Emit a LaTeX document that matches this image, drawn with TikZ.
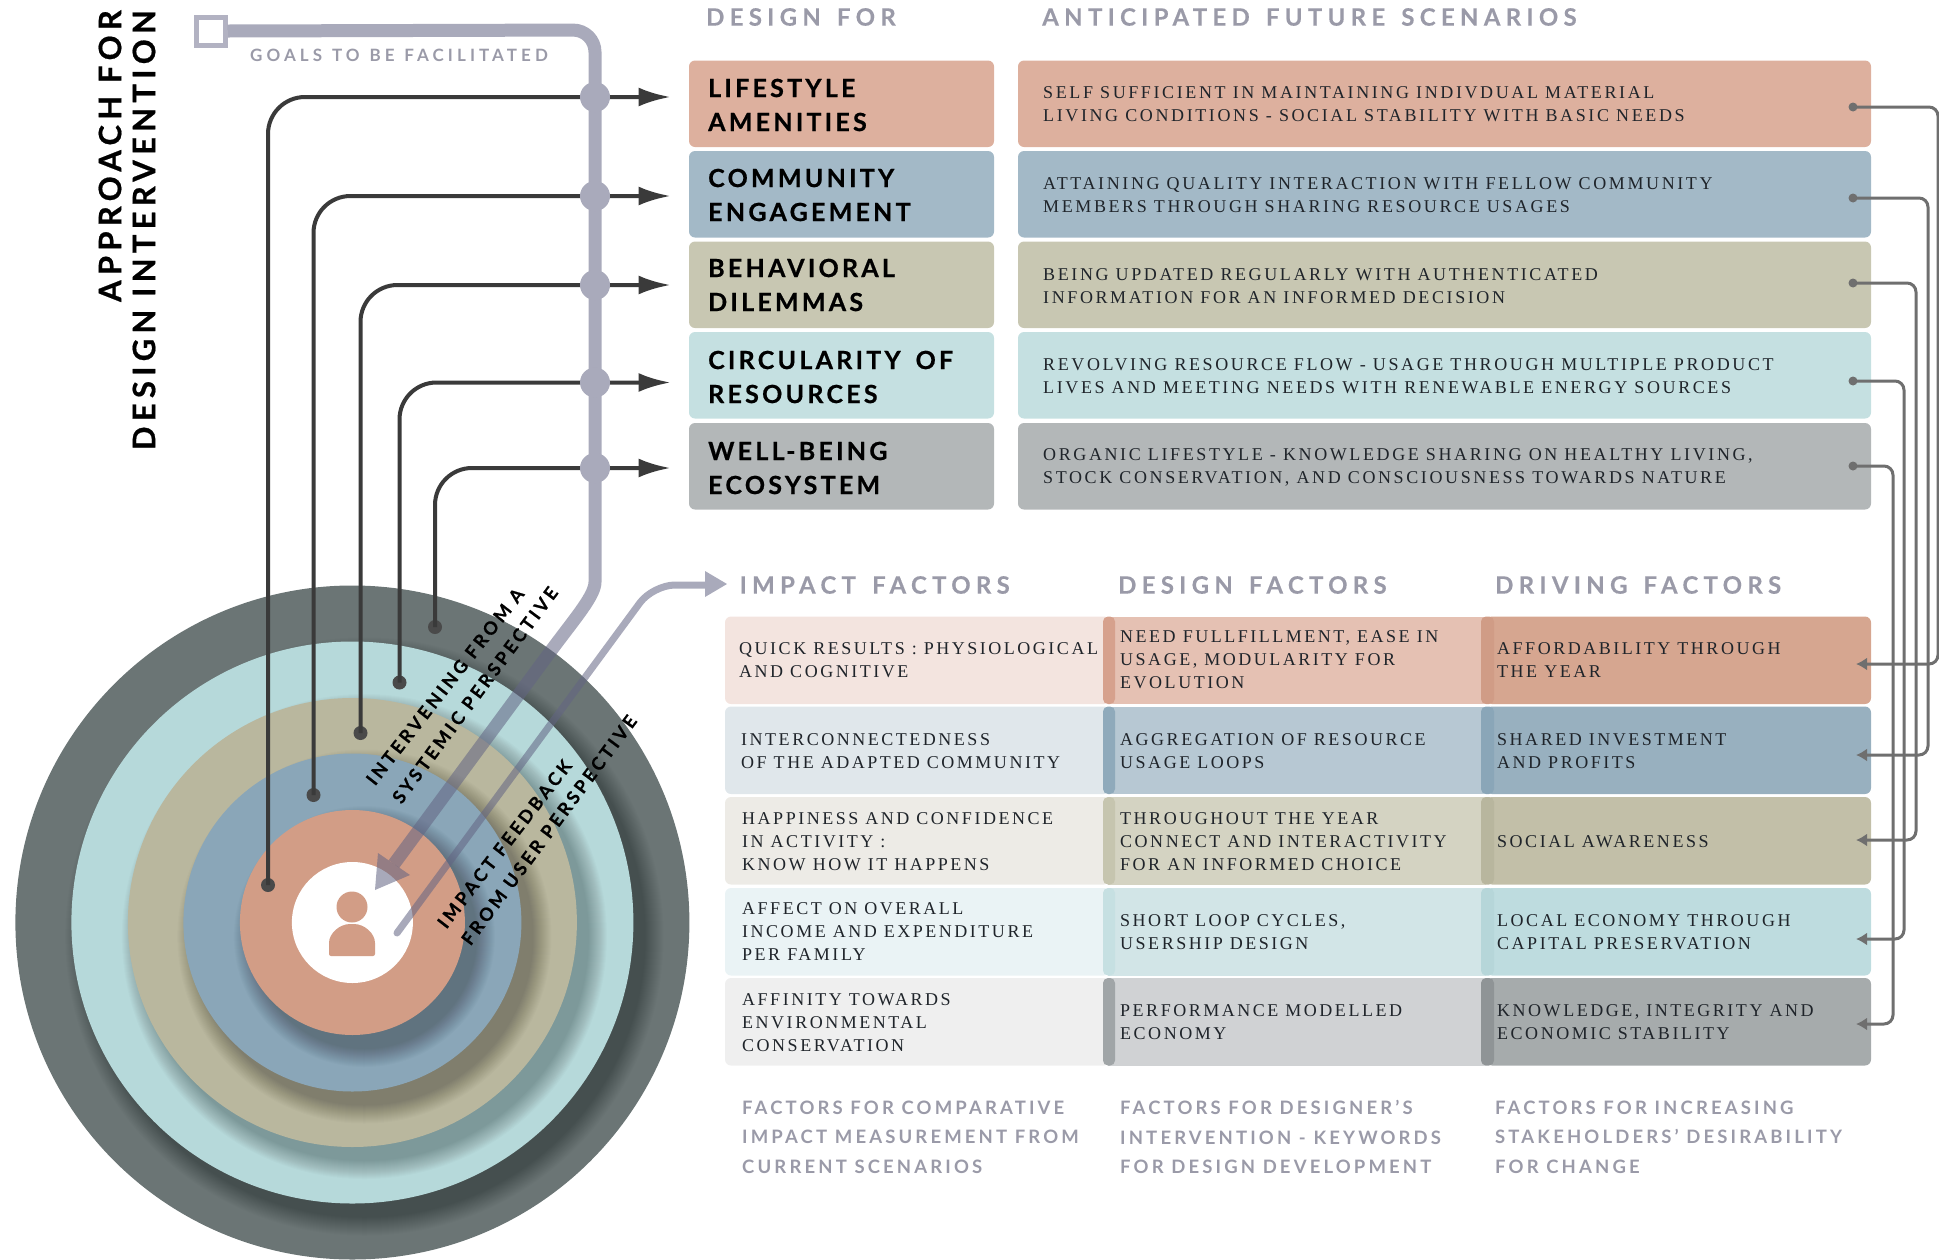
\documentclass[tikz,border=0pt]{standalone}
\usepackage{fontspec}
\usetikzlibrary{arrows.meta,calc}
\newfontfamily\bodyface[LetterSpace=14.5]{Liberation Serif}
\newfontfamily\tableface[LetterSpace=14]{Liberation Serif}
\newfontfamily\headface[LetterSpace=22,WordSpace=1.45,BoldFeatures={FakeBold=0.25}]{Lato}
\newfontfamily\goalface[LetterSpace=24,WordSpace=1.2]{Lato}
\newfontfamily\noteface[LetterSpace=17]{Lato}
\newfontfamily\titleface[LetterSpace=13,WordSpace=1.6,BoldFeatures={FakeBold=0.6}]{Lato}
\newfontfamily\bigface[LetterSpace=17,BoldFeatures={FakeBold=0.6}]{Lato}
\newfontfamily\angface[LetterSpace=18,BoldFeatures={FakeBold=0.5}]{Lato}
\definecolor{ink}{HTML}{1F242A}
\definecolor{headgray}{HTML}{9A9AA8}
\definecolor{pipe}{HTML}{A9AABB}
\definecolor{pipeT}{HTML}{626483}
\definecolor{wire}{HTML}{3A3A3A}
\definecolor{rwire}{HTML}{6F6F6F}
\definecolor{ringA}{HTML}{6B7575}
\definecolor{ringB}{HTML}{B6D9DA}
\definecolor{ringC}{HTML}{B9B79E}
\definecolor{ringD}{HTML}{8AA6B8}
\definecolor{ringE}{HTML}{D29D86}
% top boxes
\definecolor{ta}{HTML}{DDB09E}\definecolor{tb}{HTML}{A3B9C7}\definecolor{tc}{HTML}{C8C7B2}\definecolor{td}{HTML}{C5E0E1}\definecolor{te}{HTML}{B3B7B8}
% table left
\definecolor{la}{HTML}{F3E4DF}\definecolor{lb}{HTML}{E0E7EB}\definecolor{lc}{HTML}{EDEBE6}\definecolor{ld}{HTML}{EAF3F5}\definecolor{le}{HTML}{EFEFEF}
% table middle
\definecolor{ma}{HTML}{E5C1B3}\definecolor{mb}{HTML}{B7C8D3}\definecolor{mc}{HTML}{D4D3C2}\definecolor{md}{HTML}{D2E5E7}\definecolor{me}{HTML}{D0D2D4}
% table right
\definecolor{ra}{HTML}{D6A690}\definecolor{rb}{HTML}{98B0BF}\definecolor{rc}{HTML}{C2BFA8}\definecolor{rd}{HTML}{BEDCDF}\definecolor{re}{HTML}{A6ABAC}
% strips
\definecolor{sa}{HTML}{D6A18D}\definecolor{sb}{HTML}{8FAABB}\definecolor{sc}{HTML}{C6C5AF}\definecolor{sd}{HTML}{C6E0E2}\definecolor{se}{HTML}{A0A5A7}
\definecolor{xa}{HTML}{D09C86}\definecolor{xb}{HTML}{8AA6B8}\definecolor{xc}{HTML}{B8B69E}\definecolor{xd}{HTML}{B6D6D9}\definecolor{xe}{HTML}{8F9496}
\tikzset{
  panel/.style={inner sep=0pt,outer sep=0pt,anchor=north west,rounded corners=6pt},
  lab/.style={inner sep=0pt,anchor=west,align=left,text=ink,font=\bodyface\fontsize{18}{23}\selectfont},
  tablab/.style={inner sep=0pt,anchor=west,align=left,text=ink,font=\tableface\fontsize{18}{23}\selectfont},
  boxtitle/.style={inner sep=0pt,anchor=west,align=left,text=black,font=\titleface\bfseries\fontsize{25}{34}\selectfont},
  head/.style={inner sep=0pt,anchor=west,text=headgray,font=\headface\bfseries\fontsize{24}{24}\selectfont},
  goalstyle/.style={inner sep=0pt,anchor=west,text=headgray,font=\goalface\bfseries\fontsize{17}{17}\selectfont},
  note/.style={inner sep=0pt,anchor=west,align=left,text=headgray,font=\noteface\bfseries\fontsize{18.5}{29.5}\selectfont},
  angled/.style={inner sep=0pt,text=black,font=\angface\bfseries\fontsize{18}{18}\selectfont},
  bigtitle/.style={inner sep=0pt,anchor=east,rotate=90,text=black,font=\bigface\bfseries\fontsize{31}{31}\selectfont},
  wiredot/.style={circle,fill=wire!92!white,inner sep=0pt,minimum size=14pt},
  pipedot/.style={circle,fill=pipe,inner sep=0pt,minimum size=30pt},
  rdot/.style={circle,fill=rwire,inner sep=0pt,minimum size=9pt},
  wireline/.style={draw=wire,line width=4pt,rounded corners=37pt,-{Latex[length=32pt,width=19pt]}},
  rline/.style={draw=rwire,line width=3pt,rounded corners=9pt,-{Latex[length=11pt,width=13pt]}},
}
\newcommand{\ringshadow}[2]{% radius, parent radius
  \begin{scope}
    \clip (ctr) circle[radius=#2pt];
    \foreach \k in {0,...,18}{
      \fill[black,opacity=0.017] ($(ctr)+(12,14)$) circle[radius={#1pt+\k*1.0pt}];
    }
  \end{scope}}
\begin{document}
\begin{tikzpicture}[x=1pt,y=-1pt]
\useasboundingbox (0,0) rectangle (1939,1259);
\coordinate (ctr) at (352.4,922.5);
% rings
\fill[ringA] (ctr) circle[radius=337pt];
\ringshadow{281}{337}
\fill[ringB] (ctr) circle[radius=281pt];
\ringshadow{224.5}{281}
\fill[ringC] (ctr) circle[radius=224.5pt];
\ringshadow{169}{224.5}
\fill[ringD] (ctr) circle[radius=169pt];
\ringshadow{112.5}{169}
\fill[ringE] (ctr) circle[radius=112.5pt];
\fill[white] (ctr) circle[radius=60.5pt];
% person
\fill[ringE] (352,907) circle[radius=15.5pt];
\fill[ringE,rounded corners=2pt] (329,956) -- (329,945) .. controls (329,933) and (340,924) .. (352,924) .. controls (364,924) and (375,933) .. (375,945) -- (375,956) -- cycle;
% top boxes
\foreach \n/\y/\c in {1/60.5/ta,2/151/tb,3/241.5/tc,4/332/td,5/423/te}{
  \node[panel,fill=\c,minimum width=305pt,minimum height=86.5pt] (L\n) at (689,\y) {};
  \node[panel,fill=\c,minimum width=853pt,minimum height=86.5pt] (S\n) at (1018,\y) {};
}
% lower table
\foreach \n/\y/\a/\b/\c/\s/\x in {1/616.5/la/ma/ra/sa/xa,2/706.5/lb/mb/rb/sb/xb,3/797/lc/mc/rc/sc/xc,4/888/ld/md/rd/sd/xd,5/978/le/me/re/se/xe}{
  \node[panel,fill=\a,minimum width=385pt,minimum height=87.5pt] (I\n) at (725,\y) {};
  \node[panel,fill=\c,minimum width=385pt,minimum height=87.5pt] (R\n) at (1486,\y) {};
  \fill[\b] (1108,\y) rectangle ++(378,87.5);
  \fill[\s,rounded corners=5pt] (1103,\y) rectangle ++(12,87.5);
  \fill[\x,rounded corners=5pt] (1481,\y) rectangle ++(13,87.5);
}
% wires from the rings to the goals
\node[wiredot] (w1) at (268,885) {};
\node[wiredot] (w2) at (313.5,795) {};
\node[wiredot] (w3) at (360.5,733) {};
\node[wiredot] (w4) at (399.5,682.5) {};
\node[wiredot] (w5) at (435,627) {};
\coordinate (g1) at (670.5,97);
\coordinate (g2) at (670.5,196);
\coordinate (g3) at (670.5,285);
\coordinate (g4) at (670.5,382.5);
\coordinate (g5) at (670.5,468);
\foreach \n in {1,...,5}{\draw[wireline] (w\n.center) |- (g\n);}
% goal pipe
\node[draw=pipe!90!white,fill=white,line width=5pt,inner sep=0pt,minimum width=29pt,minimum height=28pt] (sq) at (211,31) {};
\coordinate (pipeknee) at (595,30);
\coordinate (pipeend) at (394,864);
\draw[pipeT,opacity=.55,line width=13pt,rounded corners=22pt] (sq.east) -- (pipeknee) -- (595,560) [sharp corners] .. controls (595,595) and (577,616) .. (553,648) -- (pipeend);
\fill[pipeT,opacity=.55] (375,890) -- (378,853) -- (410,875) -- cycle;
\foreach \n/\y in {1/97,2/196,3/285,4/382.5,5/468}{\node[pipedot] (p\n) at (595,\y) {};}
% feedback pipe
\coordinate (fs) at (397,933);
\coordinate (fk) at (653,585);
\coordinate (fe) at (706,585);
\draw[pipeT,opacity=.55,line width=7pt,line cap=round,rounded corners=22pt] (fs) -- (fk) -- (fe);
\fill[pipe] (727,584) -- (705,571) -- (705,597) -- cycle;
% right wires
\foreach \n/\y/\x/\e in {1/107/1938/664,2/198/1928/755,3/283/1916/840,4/381/1904/939,5/466/1893/1024}{
  \node[rdot] (rs\n) at (1853,\y) {};
  \coordinate (rv\n) at (\x,500);
  \coordinate (re\n) at (1856,\e);
  \draw[rline] (rs\n.center) -| (rv\n) |- (re\n);
}
% title
\node[bigtitle] (tt1) at (110,10) {APPROACH FOR};
\node[bigtitle] (tt2) at (144,10) {DESIGN INTERVENTION};
\node[goalstyle] (goalslab) at (250,55) {GOALS TO BE FACILITATED};
% headers
\node[head] (h1) at (706,17) {DESIGN FOR};
\node[head] (h2) at (1042,17) {ANTICIPATED FUTURE SCENARIOS};
\node[head] (h3) at (739.5,585) {IMPACT FACTORS};
\node[head] (h4) at (1118,585) {DESIGN FACTORS};
\node[head] (h5) at (1495,585) {DRIVING FACTORS};
% box titles
\node[boxtitle] (b1) at (708,105) {LIFESTYLE\\AMENITIES};
\node[boxtitle] (b2) at (708,195) {COMMUNITY\\ENGAGEMENT};
\node[boxtitle] (b3) at (708,285) {BEHAVIORAL\\DILEMMAS};
\node[boxtitle] (b4) at (708,377) {CIRCULARITY OF\\RESOURCES};
\node[boxtitle] (b5) at (708,468) {WELL-BEING\\ECOSYSTEM};
% scenarios
\node[lab] (s1) at (1043,104) {SELF SUFFICIENT IN MAINTAINING INDIVDUAL MATERIAL\\LIVING CONDITIONS - SOCIAL STABILITY WITH BASIC NEEDS};
\node[lab] (s2) at (1043,195) {ATTAINING QUALITY INTERACTION WITH FELLOW COMMUNITY\\MEMBERS THROUGH SHARING RESOURCE USAGES};
\node[lab] (s3) at (1043,286) {BEING UPDATED REGULARLY WITH AUTHENTICATED\\INFORMATION FOR AN INFORMED DECISION};
\node[lab] (s4) at (1043,376) {REVOLVING RESOURCE FLOW - USAGE THROUGH MULTIPLE PRODUCT\\LIVES AND MEETING NEEDS WITH RENEWABLE ENERGY SOURCES};
\node[lab] (s5) at (1043,467) {ORGANIC LIFESTYLE - KNOWLEDGE SHARING ON HEALTHY LIVING,\\STOCK CONSERVATION, AND CONSCIOUSNESS TOWARDS NATURE};
% impact
\node[tablab] (i1) at (739,660) {QUICK RESULTS : PHYSIOLOGICAL\\AND COGNITIVE};
\node[tablab] (i2) at (741,751) {INTERCONNECTEDNESS\\OF THE ADAPTED COMMUNITY};
\node[tablab] (i3) at (742,842) {HAPPINESS AND CONFIDENCE\\IN ACTIVITY :\\KNOW HOW IT HAPPENS};
\node[tablab] (i4) at (742,932) {AFFECT ON OVERALL\\INCOME AND EXPENDITURE\\PER FAMILY};
\node[tablab] (i5) at (742,1022.5) {AFFINITY TOWARDS\\ENVIRONMENTAL\\CONSERVATION};
% design
\node[tablab] (d1) at (1120,660) {NEED FULLFILLMENT, EASE IN\\USAGE, MODULARITY FOR\\EVOLUTION};
\node[tablab] (d2) at (1120,751) {AGGREGATION OF RESOURCE\\USAGE LOOPS};
\node[tablab] (d3) at (1120,842) {THROUGHOUT THE YEAR\\CONNECT AND INTERACTIVITY\\FOR AN INFORMED CHOICE};
\node[tablab] (d4) at (1120,932) {SHORT LOOP CYCLES,\\USERSHIP DESIGN};
\node[tablab] (d5) at (1120,1022) {PERFORMANCE MODELLED\\ECONOMY};
% driving
\node[tablab] (r1) at (1497,660) {AFFORDABILITY THROUGH\\THE YEAR};
\node[tablab] (r2) at (1497,751) {SHARED INVESTMENT\\AND PROFITS};
\node[tablab] (r3) at (1497,842) {SOCIAL AWARENESS};
\node[tablab] (r4) at (1497,932) {LOCAL ECONOMY THROUGH\\CAPITAL PRESERVATION};
\node[tablab] (r5) at (1497,1022) {KNOWLEDGE, INTEGRITY AND\\ECONOMIC STABILITY};
% notes
\node[note] (n1) at (742,1137) {FACTORS FOR COMPARATIVE\\IMPACT MEASUREMENT FROM\\CURRENT SCENARIOS};
\node[note] (n2) at (1120,1137) {FACTORS FOR DESIGNER’S\\INTERVENTION - KEYWORDS\\FOR DESIGN DEVELOPMENT};
\node[note] (n3) at (1495,1137) {FACTORS FOR INCREASING\\STAKEHOLDERS’ DESIRABILITY\\FOR CHANGE};
% angled labels
\node[angled,rotate=52] (a1) at (445,686.5) {INTERVENING FROM A};
\node[angled,rotate=53.4] (a2) at (475,695) {SYSTEMIC PERSPECTIVE};
\node[angled,rotate=52.3] (a3) at (504.5,844) {IMPACT FEEDBACK};
\node[angled,rotate=53.4] (a4) at (549,830) {FROM USER PERSPECTIVE};
\end{tikzpicture}
\end{document}
